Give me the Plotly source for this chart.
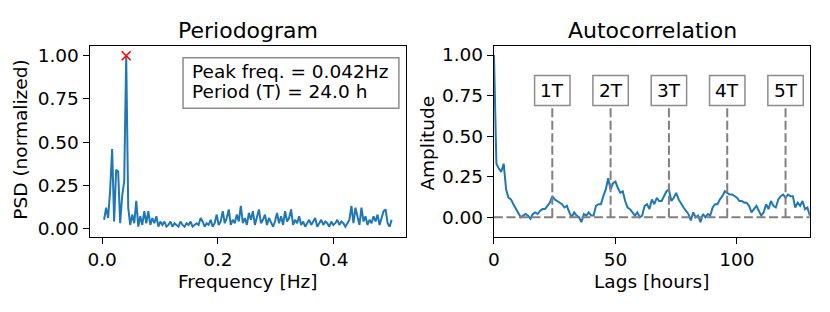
import numpy as np
import plotly.graph_objects as go

# ---------------- data ----------------
n_samples = 288
psd_values = [
    0.05, 0.12, 0.06, 0.22, 0.46, 0.04, 0.34, 0.33, 0.03, 0.19,
    0.27, 1.00, 0.12, 0.02, 0.08, 0.03, 0.16, 0.01, 0.07, 0.02,
    0.10, 0.03, 0.10, 0.02, 0.06, 0.03, 0.07, 0.01, 0.04, 0.02,
    0.04, 0.01, 0.02, 0.04, 0.01, 0.03, 0.02, 0.01, 0.04, 0.02,
    0.01, 0.03, 0.02, 0.04, 0.01, 0.02, 0.03, 0.02, 0.06, 0.04,
    0.01, 0.03, 0.02, 0.05, 0.01, 0.03, 0.08, 0.02, 0.04, 0.10,
    0.03, 0.06, 0.11, 0.02, 0.05, 0.03, 0.08, 0.04, 0.13, 0.03,
    0.06, 0.02, 0.09, 0.05, 0.10, 0.02, 0.07, 0.11, 0.03, 0.05,
    0.08, 0.02, 0.06, 0.03, 0.01, 0.04, 0.09, 0.03, 0.07, 0.02,
    0.10, 0.04, 0.06, 0.11, 0.02, 0.05, 0.03, 0.07, 0.02, 0.04,
    0.01, 0.03, 0.05, 0.02, 0.04, 0.06, 0.01, 0.03, 0.05, 0.02,
    0.04, 0.03, 0.01, 0.04, 0.02, 0.03, 0.05, 0.02, 0.04, 0.03,
    0.01, 0.03, 0.05, 0.13, 0.03, 0.12, 0.06, 0.02, 0.12, 0.04,
    0.07, 0.02, 0.05, 0.03, 0.07, 0.04, 0.08, 0.02, 0.06, 0.10,
    0.11, 0.03, 0.01, 0.05,
]
frequencies = [k / n_samples for k in range(1, len(psd_values) + 1)]

acf_values = [
    1.00, 0.33, 0.30, 0.28, 0.33, 0.17, 0.12, 0.11, 0.08, 0.05,
    0.02, 0.00, 0.01, 0.02, 0.01, -0.01, 0.02, 0.03, 0.02, 0.04,
    0.05, 0.05, 0.07, 0.09, 0.13, 0.11, 0.10, 0.09, 0.08, 0.06,
    0.07, 0.03, 0.00, 0.03, 0.01, 0.00, -0.03, 0.02, 0.01, 0.03,
    0.01, 0.01, 0.07, 0.08, 0.08, 0.13, 0.17, 0.24, 0.17, 0.21,
    0.22, 0.18, 0.15, 0.16, 0.10, 0.06, 0.05, 0.03, 0.01, 0.03,
    0.00, 0.01, 0.07, 0.08, 0.05, 0.11, 0.08, 0.12, 0.10, 0.10,
    0.13, 0.16, 0.17, 0.10, 0.12, 0.15, 0.11, 0.08, 0.06, 0.04,
    0.02, -0.02, 0.03, 0.00, 0.01, -0.03, 0.02, 0.00, 0.02, 0.01,
    0.06, 0.08, 0.08, 0.11, 0.13, 0.16, 0.15, 0.14, 0.14, 0.13,
    0.12, 0.10, 0.10, 0.09, 0.09, 0.07, 0.03, 0.05, 0.07, 0.04,
    0.01, 0.03, 0.08, 0.05, 0.10, 0.07, 0.06, 0.11, 0.13, 0.14,
    0.12, 0.14, 0.13, 0.13, 0.06, 0.09, 0.07, 0.10, 0.05, 0.06,
    0.01,
]
lags = list(range(len(acf_values)))

period_labels = ["1T", "2T", "3T", "4T", "5T"]
period_lags = [24, 48, 72, 96, 120]

psd_xticks = [0.0, 0.2, 0.4]
psd_xticklabels = ["0.0", "0.2", "0.4"]
acf_xticks = [0, 50, 100]
acf_xticklabels = ["0", "50", "100"]
yticks = [0.0, 0.25, 0.5, 0.75, 1.0]
yticklabels = ["0.00", "0.25", "0.50", "0.75", "1.00"]

# ---------------- styling ----------------
OFF = 8                      # page body margin
W, H = 830 - OFF, 312 - OFF  # figure size so that it fits the window
FONT = "DejaVu Sans"
FS = 18.5
FS_TITLE = 22
BLUE = "#1f77b4"
GRAY = "#808080"
BOXEDGE = "#8c8c8c"

peak_idx = int(np.argmax(psd_values))
peak_freq = frequencies[peak_idx]

fig = go.Figure()

fig.add_trace(go.Scatter(x=frequencies, y=psd_values, mode="lines",
                         line=dict(color=BLUE, width=2),
                         xaxis="x", yaxis="y", showlegend=False))
fig.add_trace(go.Scatter(x=[peak_freq], y=[psd_values[peak_idx]], mode="markers",
                         marker=dict(symbol="x-thin", size=9,
                                     line=dict(color="red", width=1.6), color="red"),
                         xaxis="x", yaxis="y", showlegend=False))
fig.add_trace(go.Scatter(x=lags, y=acf_values, mode="lines",
                         line=dict(color=BLUE, width=2),
                         xaxis="x2", yaxis="y2", showlegend=False))


def px_x(p):
    """page pixel x -> paper fraction"""
    return (p - OFF) / W


def px_y(p):
    """page pixel y (from top) -> paper fraction"""
    return 1 - (p - OFF) / H


dom1 = [px_x(84.3), px_x(403.0)]
dom2 = [px_x(491.5), px_x(809.7)]
ydom = [px_y(238.3), px_y(45.3)]

axis_common = dict(showline=True, mirror=True, linecolor="black", linewidth=1.3,
                   ticks="outside", ticklen=6, tickwidth=1.3, tickcolor="black",
                   showgrid=False, zeroline=False,
                   tickfont=dict(family=FONT, size=FS, color="black"))

fig.update_layout(
    width=W, height=H,
    margin=dict(l=0, r=0, t=0, b=0),
    paper_bgcolor="white", plot_bgcolor="white",
    font=dict(family=FONT, size=FS, color="black"),
    xaxis=dict(domain=dom1, range=[-0.0213, 0.525], tickvals=psd_xticks,
               ticktext=psd_xticklabels, anchor="y", **axis_common),
    yaxis=dict(domain=ydom, range=[-0.05, 1.057], tickvals=yticks,
               ticktext=yticklabels, anchor="x", **axis_common),
    xaxis2=dict(domain=dom2, range=[0, 130], tickvals=acf_xticks,
                ticktext=acf_xticklabels, anchor="y2", **axis_common),
    yaxis2=dict(domain=ydom, range=[-0.122, 1.056], tickvals=yticks,
                ticktext=yticklabels, anchor="x2", **axis_common),
)

DASH = "9px,3.5px"
shapes = []
shapes.append(dict(type="line", xref="x2", yref="y2", x0=0, x1=130, y0=0, y1=0,
                   line=dict(color=GRAY, width=2, dash=DASH), layer="above"))
for lg in period_lags:
    shapes.append(dict(type="line", xref="x2", yref="y2", x0=lg, x1=lg, y0=0, y1=0.75,
                       line=dict(color=GRAY, width=2, dash=DASH), layer="above"))
for lg in period_lags:
    shapes.append(dict(type="rect", xref="x2", yref="y2",
                       xsizemode="pixel", ysizemode="pixel",
                       xanchor=lg, yanchor=0.781,
                       x0=-17.7, x1=17.7, y0=-15, y1=15,
                       fillcolor="white", line=dict(color=BOXEDGE, width=1.5),
                       layer="above"))
shapes.append(dict(type="rect", xref="paper", yref="paper",
                   x0=px_x(178.3), x1=px_x(395.7), y0=px_y(108.3), y1=px_y(57.3),
                   fillcolor="white", line=dict(color=BOXEDGE, width=1.5), layer="above"))
fig.update_layout(shapes=shapes)

ann = []


def text_ann(text, x, y, size=FS, angle=0, xanchor="center", xref="paper", yref="paper"):
    return dict(text=text, xref=xref, yref=yref, x=x, y=y,
                xanchor=xanchor, yanchor="middle", showarrow=False, textangle=angle,
                font=dict(family=FONT, size=size, color="black"))


ann.append(text_ann("Periodogram", px_x(243.5), px_y(30), FS_TITLE))
ann.append(text_ann("Autocorrelation", px_x(651), px_y(30), FS_TITLE))
ann.append(text_ann("Frequency [Hz]", px_x(244), px_y(283)))
ann.append(text_ann("Lags [hours]", px_x(650.5), px_y(283)))
ann.append(text_ann("PSD (normalized)", px_x(15), px_y(140), angle=-90))
ann.append(text_ann("Amplitude", px_x(425), px_y(143), angle=-90))

line1 = f"Peak freq. = {peak_freq:.3f}Hz"
line2 = f"Period (T) = {1 / peak_freq:.1f} h"
ann.append(text_ann(line1, px_x(185), px_y(71), xanchor="left"))
ann.append(text_ann(line2, px_x(185), px_y(91.5), xanchor="left"))

for lbl, lg in zip(period_labels, period_lags):
    ann.append(text_ann(lbl, lg, 0.781, xref="x2", yref="y2"))
fig.update_layout(annotations=ann)

fig.write_html("out.html")
